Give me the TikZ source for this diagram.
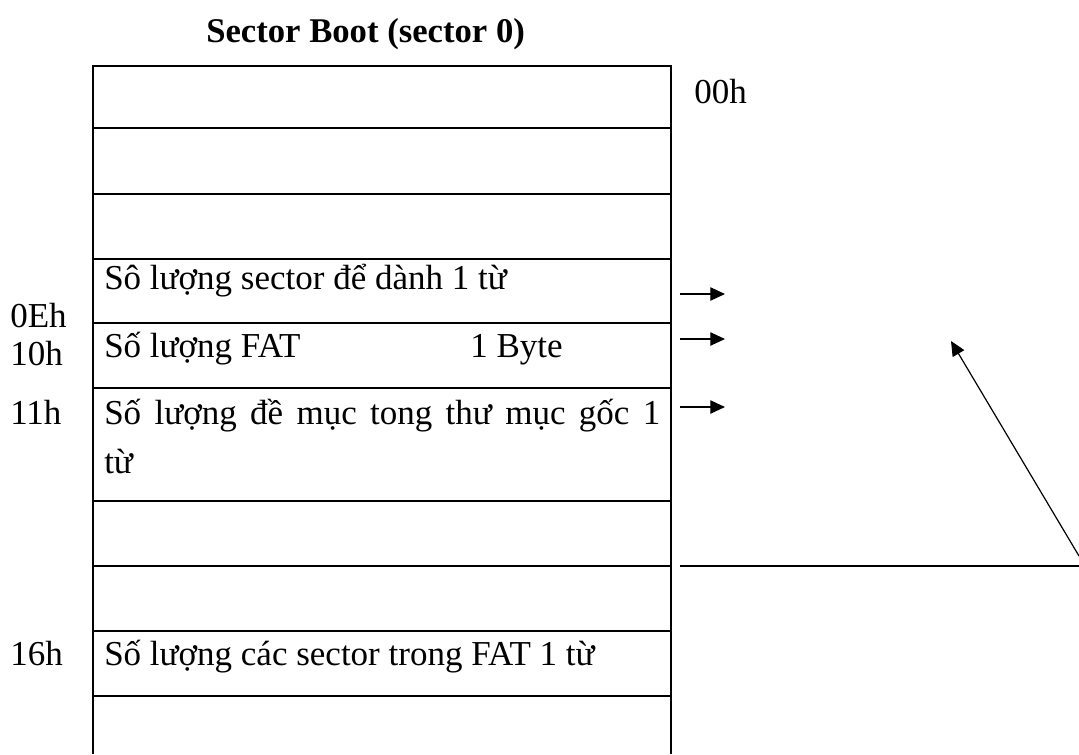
\documentclass[tikz,border=0pt]{standalone}
\usepackage{fontspec}
\setmainfont{Liberation Serif}
\usetikzlibrary{arrows.meta}
\begin{document}
\begin{tikzpicture}[x=0.75pt,y=-0.75pt,
  grid/.style={line width=1.6pt},
  lbl/.style={anchor=base west, inner sep=0pt, font=\fontsize{26.25pt}{31pt}\selectfont},
  ttl/.style={anchor=base west, inner sep=0pt, font=\fontsize{26pt}{31pt}\selectfont\bfseries},
  ptr/.style={line width=0.9pt, -{Triangle[length=11pt,width=10pt]}},
  rule/.style={line width=1.1pt}
]
\useasboundingbox (0,0) rectangle (1079,754);
% title
\node[ttl] (title) at (206,42) {Sector Boot (sector 0)};
% table
\draw[grid] (93,754) -- (93,66) -- (671,66) -- (671,754);
\foreach \y in {128,194,259,323,388,501,566,631,696}
  \draw[grid] (93,\y) -- (671,\y);
% row texts
\node[lbl] (r4) at (104,289) {Sô lượng sector để dành 1 từ};
\node[lbl] (r5) at (104,357) {Số lượng FAT};
\node[lbl] (r5b) at (470,357) {1 Byte};
\node[lbl] (r6a) at (104,424) {\makebox[417pt][s]{Số lượng đề mục tong thư mục gốc 1}};
\node[lbl] (r6b) at (104,473) {từ};
\node[lbl] (r9) at (104,665) {Số lượng các sector trong FAT 1 từ};
% offsets
\node[lbl] (o00) at (694,103) {00h};
\node[lbl] (o0E) at (10,327) {0Eh};
\node[lbl] (o10) at (10,365) {10h};
\node[lbl] (o11) at (10,424) {11h};
\node[lbl] (o16) at (10,665) {16h};
% arrows
\coordinate (a1s) at (680,294); \coordinate (a1e) at (725,294);
\coordinate (a2s) at (680,339); \coordinate (a2e) at (725,339);
\coordinate (a3s) at (680,407); \coordinate (a3e) at (725,407);
\draw[ptr] (a1s) -- (a1e);
\draw[ptr] (a2s) -- (a2e);
\draw[ptr] (a3s) -- (a3e);
\coordinate (h1) at (680,566); \coordinate (h2) at (1079,566);
\draw[rule] (h1) -- (h2);
\coordinate (d1) at (1079,556); \coordinate (d2) at (951,341);
\draw[ptr] (d1) -- (d2);
\end{tikzpicture}
\end{document}
